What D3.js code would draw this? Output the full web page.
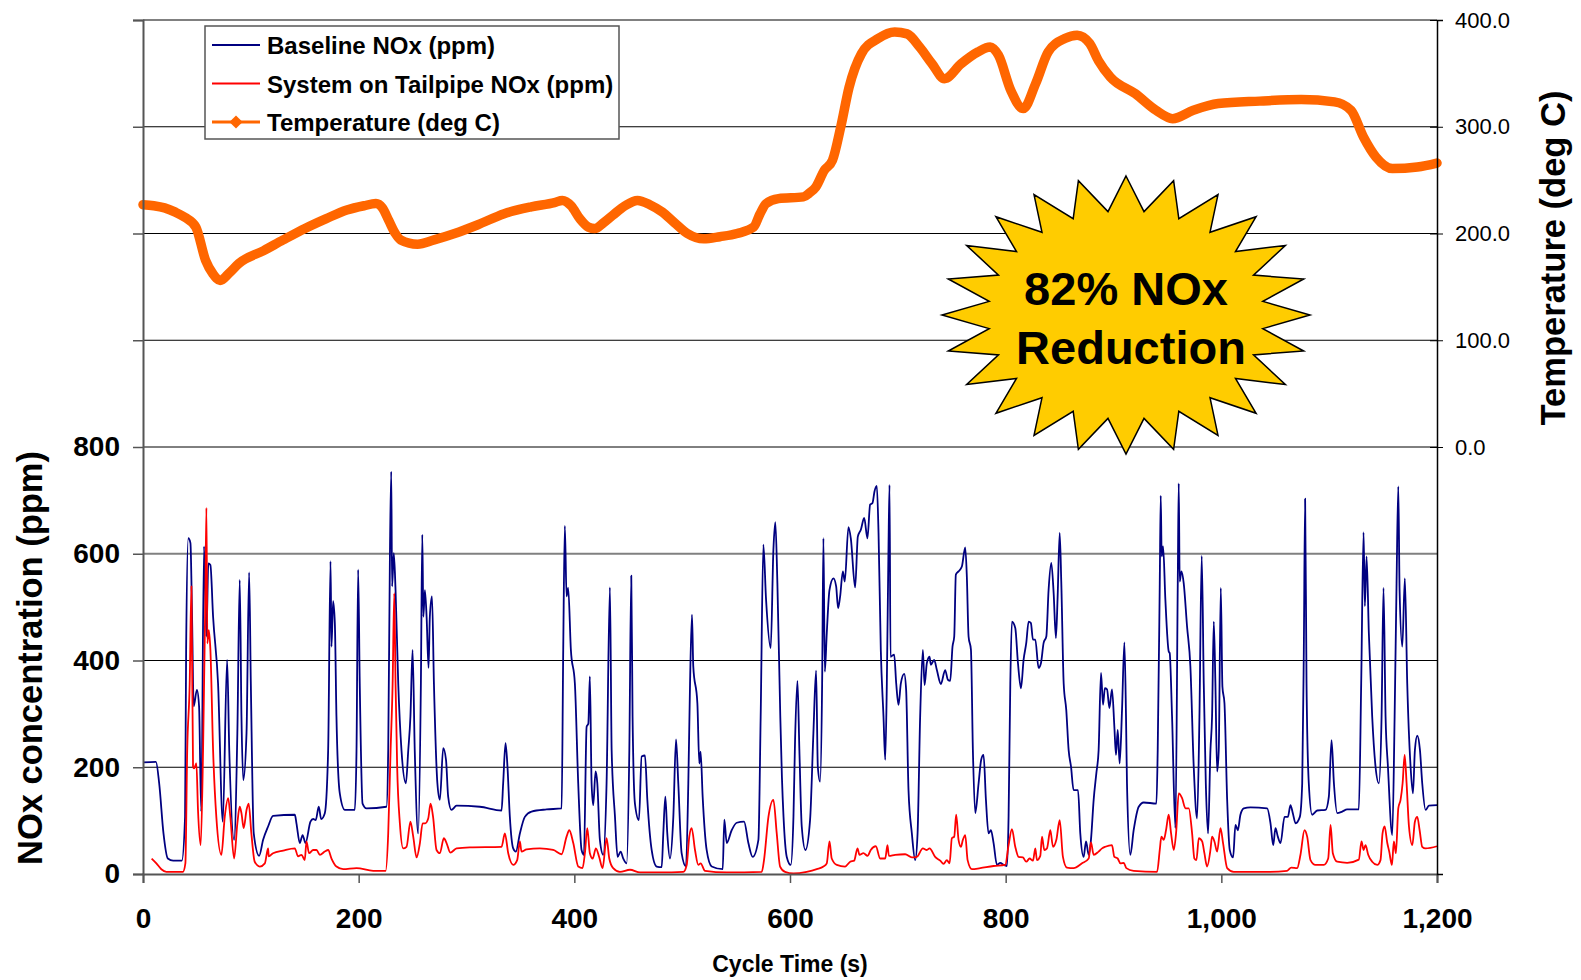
<!DOCTYPE html>
<html>
<head>
<meta charset="utf-8">
<script src="https://cdn.jsdelivr.net/npm/d3@7"></script>
<style>
  body { margin: 0; background: #fff; }
  svg text { font-family: "Liberation Sans", Arial, sans-serif; }
</style>
</head>
<body>
<div id="chart"></div>
<script>
// cycle time (s), value
var baselineNOx = [[0,209],[12,210],[15,170],[19,76],[23,29],[28,25],[36,25],[39,107],[40,420],[42,629],[44,620],[45.5,482],[47,314],[50,345],[52,314],[54,117],[56.6,614],[58.8,445],[60.6,582],[62.5,579],[65,482],[69.6,357],[74,98],[78,401],[80,232],[84.5,64],[87.5,264],[89.7,551],[91.3,295],[93,176],[96,264],[98.4,565],[100,357],[102.7,76],[107.7,34],[111.4,64],[116,89],[120.6,109],[140.8,111],[142.3,95],[145.4,58],[148,73],[150.7,58],[155.3,98],[157.8,103],[160.2,101],[163,126],[165.2,103],[168.6,114],[171.7,232],[173.9,586],[174.8,426],[176.3,511],[177.9,470],[179.4,295],[182.5,151],[187.2,120],[196.4,120],[198,232],[199.5,570],[201,357],[203.6,132],[207.3,123],[225.8,126],[227.4,232],[229,601],[230.2,754],[231,539],[232.6,601],[234.2,532],[236.7,357],[239.7,232],[243.8,170],[246,232],[248,295],[250,420],[252,232],[255.2,76],[257.7,357],[259,636],[260,482],[261.4,532],[263,482],[264.8,386],[266,482],[268,520],[269.8,357],[273,170],[275.3,139],[278.4,236],[281,214],[283,145],[286,120],[290.8,128],[312.4,126],[332.5,119],[334,170],[336.2,245],[338,201],[340.2,107],[343.3,48],[345.8,42],[349.5,76],[354.1,107],[360.3,117],[374.2,121],[388.2,123],[389.7,420],[391.2,652],[392.8,520],[394.3,536],[396.8,420],[400.5,357],[403.6,170],[406.7,45],[408.9,36],[411.4,276],[413,282],[414.4,370],[416,170],[417.5,129],[419.7,192],[421.3,170],[423.7,64],[426.8,36],[429.9,170],[433,537],[434.6,232],[437.7,107],[440.1,32],[442.9,42],[445.4,29],[448.5,20],[451,232],[452.8,559],[454,295],[456.2,132],[459.9,101],[462.4,220],[465.5,222],[467.7,139],[471.7,45],[476.3,14],[481,13],[482.5,76],[484.4,145],[486.2,76],[488.7,29],[491.8,107],[494.3,252],[496.4,170],[499.5,39],[503.5,14],[505.7,170],[507.3,357],[509.1,486],[510.3,389],[514.1,320],[515.9,207],[517.1,229],[519,145],[522.7,45],[527.4,14],[537.6,9],[539.1,102],[541.3,58],[545.9,82],[550.6,96],[557.4,98],[561.4,58],[565.4,32],[570.7,64],[572.8,295],[575.3,617],[577.8,514],[582.1,423],[584.6,607],[586.4,659],[588.3,545],[591,295],[592.5,182],[594,107],[597,32],[600.7,17],[603.2,107],[604.7,251],[606.9,362],[608.7,232],[610.9,89],[614.3,45],[618.6,101],[621.7,264],[624.2,381],[625.8,201],[627.9,173],[629.8,357],[631,629],[632.3,379],[634.1,451],[636.6,532],[640.3,554],[642.8,539],[644.6,498],[646.5,520],[649,567],[650.8,548],[654.2,650],[656.4,629],[660.4,537],[662.9,632],[665.7,645],[668.8,667],[671.8,629],[674.3,692],[676.5,695],[678.4,717],[680.5,727],[682.1,639],[684.2,420],[686.7,295],[688.3,214],[689.8,357],[691.3,607],[692.3,729],[693.2,407],[696.6,411],[698.5,357],[700.6,317],[702.8,357],[705.9,375],[707.7,345],[709.9,157],[713,76],[716.1,26],[718.3,76],[720.7,295],[723.2,420],[724.8,354],[726.9,395],[729.4,407],[730.6,392],[733.7,401],[736.2,382],[739.9,356],[743.9,382],[746.4,364],[748.6,362],[750.7,426],[752.3,445],[753.8,561],[756.3,567],[759.4,576],[762.5,612],[764,557],[765.6,445],[767.8,420],[769.6,232],[771.8,114],[774.9,170],[777.3,214],[779.5,223],[781.7,139],[784.1,76],[786.3,82],[788.8,58],[791.9,17],[795,21],[798.1,17],[801.2,15],[802.7,107],[804.3,357],[805.8,473],[808.9,461],[811.4,395],[814.2,348],[816.6,401],[819.1,433],[821.3,473],[823.4,470],[825.3,439],[827.5,439],[830.5,386],[832.7,395],[835.2,433],[837.7,445],[839.8,532],[842.3,583],[844.5,526],[846.6,442],[848.2,520],[850.1,639],[851.6,545],[853.8,357],[856.2,307],[858.4,232],[860.6,201],[863,157],[867.1,157],[869.2,76],[872.3,32],[874.5,61],[877,36],[879.1,64],[881.6,139],[884.1,189],[886.2,232],[888.4,377],[890.3,317],[892,348],[894,346],[896.2,311],[898.6,346],[900.8,276],[902.3,223],[903.9,270],[905.7,207],[907.9,307],[910.1,434],[911.6,295],[912.5,170],[915.6,36],[918.7,82],[923.4,126],[928,134],[939.8,132],[941,232],[942.9,545],[943.8,709],[944.7,595],[946,614],[948.1,514],[951.2,417],[952.1,414],[954.3,295],[957.4,86],[959.6,545],[960.5,732],[961.4,548],[963,567],[965.1,545],[968.2,464],[971.3,389],[974.4,201],[977.5,104],[979.7,295],[981.8,596],[983.7,357],[985.6,170],[987.7,76],[989.9,232],[991.4,295],[993,473],[994.5,357],[996.1,192],[997.6,232],[999.5,536],[1001,351],[1002.9,320],[1005.4,139],[1007.8,45],[1010.9,31],[1013.1,92],[1015.3,82],[1017.7,111],[1020.8,123],[1027,125],[1042.5,123],[1045.6,95],[1048.1,54],[1050.2,86],[1052.4,70],[1054.9,58],[1058.6,107],[1061.7,107],[1064.1,129],[1066.3,114],[1068.8,95],[1072.8,107],[1075,170],[1076.5,420],[1077.7,703],[1079,357],[1081.1,170],[1084.2,111],[1088.9,119],[1096.6,120],[1099.7,145],[1102.2,251],[1104.4,170],[1107.5,114],[1112.1,117],[1116.7,121],[1127.5,121],[1129.7,357],[1131.9,640],[1133.1,502],[1134.7,595],[1136.8,451],[1139.9,295],[1143,201],[1146.1,170],[1148.6,295],[1150.4,536],[1152.3,295],[1154.5,201],[1158.5,73],[1160.7,295],[1162.5,545],[1164.1,726],[1165.3,532],[1167.8,426],[1170.2,554],[1172.4,357],[1175.5,201],[1177.7,151],[1179.5,232],[1181.7,259],[1184.2,232],[1186.3,170],[1189.4,120],[1192.5,128],[1200,129]];

var tailpipeNOx = [[8,29],[12.4,20],[17,9],[21.7,4],[37,4],[39.3,20],[41,232],[43.3,357],[44.9,539],[46.4,201],[47.3,198],[49.5,207],[51,120],[53.5,54],[55.7,232],[57.8,514],[58.8,686],[59.7,432],[61,457],[62.5,420],[65,232],[68,107],[72.7,36],[75.8,107],[79,142],[81,107],[84.5,29],[87.5,95],[89.7,126],[91.3,114],[93.4,86],[96,120],[98,132],[100.5,76],[103.6,23],[108.3,14],[113,20],[116,48],[116.6,33],[120.6,39],[130,44],[140.8,48],[143.8,33],[147,36],[150,26],[151.6,61],[154,39],[157.8,45],[160.9,45],[164,36],[168.6,42],[171.7,45],[174.8,29],[179.4,14],[185.6,9],[198,11],[213.5,6],[225,6],[227.4,76],[229.6,232],[231.5,357],[233,526],[234.2,357],[235.7,201],[238.2,95],[241.3,48],[244.4,51],[248,98],[250.6,70],[253.7,31],[256.8,58],[259.3,95],[261.7,95],[264.5,104],[266.7,132],[269,107],[272.2,45],[275.3,39],[279,67],[281.5,58],[285,40],[290.8,48],[303,50],[332.5,51],[335.6,76],[338.7,39],[343.3,17],[347,26],[349.5,61],[351,42],[355.7,46],[368,48],[380.4,45],[388.2,37],[392.8,70],[395.3,82],[399,58],[403.6,14],[407.6,11],[409.8,39],[412,86],[414.4,39],[417,29],[420,48],[423,32],[426.2,11],[429.9,67],[432.4,29],[436,11],[442.3,4],[451.6,8],[460.9,3],[479.4,3],[501.1,4],[504.2,17],[506.6,70],[508.8,86],[511.9,45],[515,17],[517.1,20],[521.2,6],[541.3,3],[573.8,4],[575.9,26],[580,107],[584.6,139],[587.7,76],[590.8,14],[595.4,4],[603.2,1],[615.5,4],[624.8,9],[631,14],[634.1,20],[636.6,61],[638.7,29],[643.4,17],[651.1,14],[655.8,23],[659.5,25],[662.6,48],[664.4,36],[668.1,39],[671.9,34],[674.9,45],[679.6,52],[683.6,29],[688.3,29],[690.4,54],[691.7,34],[697.5,36],[706.8,37],[713,31],[717.6,32],[723.2,48],[726.9,45],[729.4,48],[734.6,32],[739.3,25],[742.4,19],[745.5,26],[748,20],[750.1,67],[752.3,70],[754.1,111],[756.3,64],[758.5,51],[760.3,64],[762.5,73],[764.7,26],[768.7,9],[776.4,11],[788.8,15],[799.6,17],[802.7,54],[805.8,84],[808.9,51],[812,32],[816,31],[819.1,23],[822.2,29],[825.3,25],[827.5,48],[829,26],[832.1,34],[833.7,70],[835.8,45],[838.3,48],[841.4,82],[843.9,51],[847,64],[850.1,101],[853.1,32],[856.8,12],[863,11],[870.8,20],[877,29],[879.1,59],[881.6,36],[886.2,42],[889.4,48],[892.4,51],[898.6,54],[900.8,32],[903.9,29],[906.4,20],[909.5,21],[911.9,11],[918.7,6],[940.4,4],[942.9,45],[944.4,70],[946.6,64],[948.7,82],[951.2,111],[953.4,76],[955.9,45],[958,76],[960.5,151],[963.6,142],[966.7,123],[969.8,123],[972.9,76],[975,29],[976.9,26],[979.1,67],[982.2,61],[984.3,39],[986.8,14],[989.9,45],[991.4,70],[993.6,61],[996.1,42],[999.2,86],[1001.6,58],[1005.4,11],[1011.5,4],[1042.5,4],[1061,6],[1064.8,12],[1070.3,11],[1073.4,36],[1077.1,82],[1079.6,70],[1082.7,26],[1087.3,17],[1095,17],[1099.1,29],[1101.3,92],[1103.4,39],[1107.5,23],[1116.7,21],[1127.5,27],[1130,61],[1131.9,45],[1133.7,54],[1136.2,36],[1139.9,23],[1144.6,17],[1147.6,26],[1149.5,76],[1151.4,89],[1153.9,58],[1155.7,42],[1158.2,17],[1160,61],[1161.9,39],[1164.1,123],[1166.2,139],[1168.1,170],[1170,223],[1171.8,170],[1174,89],[1177.1,54],[1179.5,98],[1181.7,107],[1183.9,82],[1186.3,51],[1189.4,48],[1200,52]];

var temperature = [[0,227],[10,226],[20,224],[30,220],[39,215],[49,206],[58,175],[65,162],[71.5,156],[80,163],[89,172],[112,184],[130,194],[150.7,205],[170,214],[189,222],[205,226],[216,228],[222,224],[228,212],[234,200],[239,194],[254.6,190],[270,194],[289,200],[310,208],[335,218.6],[360,225],[381.6,229],[389,231],[397,226],[405,214],[413,206],[419,204.6],[427,210],[435.5,217],[447,226],[458.6,231],[470,227],[481.7,220],[493,210],[504.8,200],[520,195],[535,197],[550.9,200],[566.3,206],[572,218],[577.8,228],[589.3,232.7],[612.4,234.3],[618,238],[624,243.6],[631.7,259],[639.4,268.6],[647.1,300],[654.8,337],[666.3,368.5],[681.7,382.6],[697.1,388.8],[708.6,387],[720.2,374.7],[731.7,359],[743.3,345],[758.7,359],[774.1,370],[785.6,374.7],[793.3,367],[804.8,334],[816.3,317],[827.8,340.4],[839.4,370],[854.8,382.6],[866.3,385.7],[877.9,378],[886,362],[897.1,346.6],[920.2,331],[939.4,315.4],[954.8,307.6],[974,315.4],[997.1,321.7],[1035.6,324],[1074,325.5],[1104.9,323.3],[1120.3,315.4],[1131.8,290.4],[1143.3,271.7],[1158.7,260.8],[1181.8,262.3],[1200,266]];

var xTicks = [0, 200, 400, 600, 800, 1000, 1200];
var noxTicks = [0, 200, 400, 600, 800, 1000, 1200, 1400, 1600];
var tempTicks = [0, 100, 200, 300, 400];
var seriesNames = ["Baseline NOx (ppm)", "System on Tailpipe NOx (ppm)", "Temperature (deg C)"];
var seriesColors = ["#000080", "#ff0000", "#ff6600"];

var width = 1581,
    height = 980;

var svg = d3.select("#chart").append("svg")
    .attr("width", width)
    .attr("height", height);

var x = d3.scaleLinear().domain([0, 1200]).range([143, 1437]);
var yNox = d3.scaleLinear().domain([0, 1600]).range([874, 20]);
var yTemp = d3.scaleLinear().domain([-400, 400]).range([874, 20]);

// grid lines
svg.append("g")
  .selectAll("line")
  .data(noxTicks.slice(1))
  .enter().append("line")
    .attr("x1", x(0))
    .attr("x2", x(1200))
    .attr("y1", function(d) { return yNox(d); })
    .attr("y2", function(d) { return yNox(d); })
    .attr("stroke", function(d) { return (d == 600 || d == 1600) ? "#808080" : "#000"; })
    .attr("stroke-width", function(d) { return (d == 600 || d == 1600) ? 2 : 1; });

var noxLine = d3.line()
    .x(function(d) { return x(d[0]); })
    .y(function(d) { return yNox(d[1]); })
    .curve(d3.curveMonotoneX);

var tempLine = d3.line()
    .x(function(d) { return x(d[0]); })
    .y(function(d) { return yTemp(d[1]); })
    .curve(d3.curveMonotoneX);

svg.append("path")
    .datum(baselineNOx)
    .attr("d", noxLine)
    .attr("fill", "none")
    .attr("stroke", seriesColors[0])
    .attr("stroke-width", 1.8)
    .attr("stroke-linejoin", "round");

svg.append("path")
    .datum(tailpipeNOx)
    .attr("d", noxLine)
    .attr("fill", "none")
    .attr("stroke", seriesColors[1])
    .attr("stroke-width", 1.8)
    .attr("stroke-linejoin", "round");

svg.append("path")
    .datum(temperature)
    .attr("d", tempLine)
    .attr("fill", "none")
    .attr("stroke", seriesColors[2])
    .attr("stroke-width", 9.5)
    .attr("stroke-linejoin", "round")
    .attr("stroke-linecap", "round");

// axes
var fmt = d3.format(",");

var leftAxis = svg.append("g")
    .attr("transform", "translate(" + x(0) + ",0)")
    .call(d3.axisLeft(yNox)
      .tickValues(noxTicks)
      .tickSize(10)
      .tickPadding(13)
      .tickFormat(function(d) { return d <= 800 ? fmt(d) : ""; }));

var bottomAxis = svg.append("g")
    .attr("transform", "translate(0," + yNox(0) + ")")
    .call(d3.axisBottom(x)
      .tickValues(xTicks)
      .tickSize(9)
      .tickPadding(25)
      .tickFormat(fmt));

var rightAxis = svg.append("g")
    .attr("transform", "translate(" + x(1200) + ",0)")
    .call(d3.axisRight(yTemp)
      .tickValues(tempTicks)
      .tickSize(6)
      .tickPadding(12)
      .tickFormat(d3.format(".1f")));

rightAxis.selectAll(".tick line").attr("x1", -7);

[leftAxis, bottomAxis].forEach(function(a) {
  a.selectAll("text")
    .style("font-size", "28px")
    .style("font-weight", "bold")
    .attr("fill", "#000");
  a.select(".domain").attr("stroke", "#555").attr("stroke-width", 2);
  a.selectAll(".tick line").attr("stroke", "#555").attr("stroke-width", 1.5);
});
rightAxis.selectAll("text")
    .style("font-size", "22px")
    .attr("fill", "#000");
rightAxis.select(".domain").attr("stroke-width", 1.5);

// axis titles
svg.append("text")
    .attr("transform", "translate(42,658) rotate(-90)")
    .attr("text-anchor", "middle")
    .style("font-size", "34.5px")
    .style("font-weight", "bold")
    .text("NOx concentration (ppm)");

svg.append("text")
    .attr("transform", "translate(1565,258) rotate(-90)")
    .attr("text-anchor", "middle")
    .style("font-size", "34.5px")
    .style("font-weight", "bold")
    .text("Temperature (deg C)");

svg.append("text")
    .attr("x", 790)
    .attr("y", 972)
    .attr("text-anchor", "middle")
    .style("font-size", "23px")
    .style("font-weight", "bold")
    .text("Cycle Time (s)");

// legend
var legend = svg.append("g").attr("transform", "translate(205,26)");

legend.append("rect")
    .attr("width", 414)
    .attr("height", 113)
    .attr("fill", "#fff")
    .attr("stroke", "#555")
    .attr("stroke-width", 1.5);

var item = legend.selectAll("g.item")
    .data(seriesNames)
    .enter().append("g")
    .attr("class", "item")
    .attr("transform", function(d, i) { return "translate(0," + (19 + i * 38.5) + ")"; });

item.append("line")
    .attr("x1", 7)
    .attr("x2", 55)
    .attr("stroke", function(d, i) { return seriesColors[i]; })
    .attr("stroke-width", function(d, i) { return i == 2 ? 3 : 2; });

item.filter(function(d, i) { return i == 2; })
  .append("path")
    .attr("transform", "translate(31,0)")
    .attr("d", d3.symbol().type(d3.symbolDiamond2).size(110))
    .attr("fill", seriesColors[2]);

item.append("text")
    .attr("x", 62)
    .attr("y", 9)
    .style("font-size", "24px")
    .style("font-weight", "bold")
    .text(function(d) { return d; });

// starburst callout
var cx = 1126, cy = 315, rx = 184, ry = 139;
var burst = d3.range(48).map(function(i) {
  var a = -Math.PI / 2 + i * Math.PI / 24;
  var r = i % 2 == 0 ? 1 : 0.75;
  return [cx + rx * r * Math.cos(a), cy + ry * r * Math.sin(a)];
});

svg.append("path")
    .attr("d", d3.line()(burst) + "Z")
    .attr("fill", "#ffcc00")
    .attr("stroke", "#000")
    .attr("stroke-width", 1.5)
    .attr("stroke-linejoin", "miter");

svg.append("text")
    .attr("x", 1126)
    .attr("y", 305)
    .attr("text-anchor", "middle")
    .style("font-size", "47px")
    .style("font-weight", "bold")
    .text("82% NOx");

svg.append("text")
    .attr("x", 1131)
    .attr("y", 364)
    .attr("text-anchor", "middle")
    .style("font-size", "47px")
    .style("font-weight", "bold")
    .text("Reduction");
</script>
</body>
</html>
